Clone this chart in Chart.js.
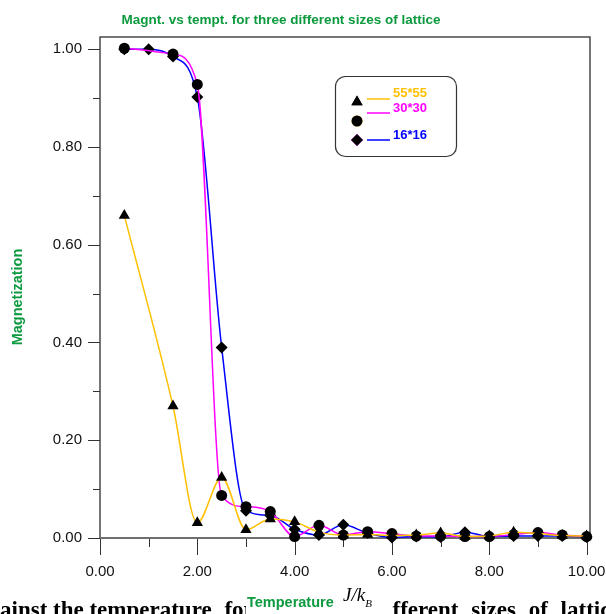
<!DOCTYPE html>
<html>
<head>
<meta charset="utf-8">
<script src="https://cdn.jsdelivr.net/npm/chart.js@4/dist/chart.umd.min.js"></script>
<style>
  html, body { margin: 0; padding: 0; background: #fff; }
  canvas { display: block; }
</style>
</head>
<body>
<canvas id="magChart" width="606" height="614"></canvas>
<script>
// temperatures (J/kB) where the runs were sampled
const temps = [0.5, 1.0, 1.5, 2.0, 2.5, 3.0, 3.5, 4.0, 4.5, 5.0,
               5.5, 6.0, 6.5, 7.0, 7.5, 8.0, 8.5, 9.0, 9.5, 10.0];
// magnetization per lattice size (null = no sample)
const mag55 = [0.66, null, 0.27, 0.031, 0.124, 0.017, 0.039, 0.033, 0.012, 0.006,
               0.007, 0.005, 0.006, 0.010, 0.003, 0.004, 0.012, 0.009, 0.005, 0.004];
const mag30 = [1.002, null, 0.99, 0.928, 0.087, 0.064, 0.054, 0.003, 0.026, 0.006,
               0.013, 0.009, 0.004, 0.004, 0.003, 0.003, 0.007, 0.011, 0.006, 0.003];
const mag16 = [1.0, 1.0, 0.985, 0.902, 0.39, 0.056, 0.046, 0.018, 0.006, 0.027,
               0.010, 0.001, 0.003, 0.002, 0.012, 0.003, 0.004, 0.004, 0.004, 0.002];
const labels = ['55*55', '30*30', '16*16'];
const xTicks = [0, 2, 4, 6, 8, 10];
const yTicks = [0, 0.2, 0.4, 0.6, 0.8, 1.0];

const GREEN = '#0c9a3e';
const SANS = '"Liberation Sans", Arial, sans-serif';
const SERIF = '"Liberation Serif", "Times New Roman", serif';

function toPoints(values) {
  return temps.map((t, i) => ({ x: t, y: values[i] })).filter(p => p.y !== null);
}

function series(label, values, color, style, radius) {
  return {
    label: label,
    data: toPoints(values),
    borderColor: color,
    backgroundColor: '#000',
    borderWidth: 1.5,
    pointStyle: style,
    pointRadius: radius,
    pointBorderWidth: 0,
    pointBackgroundColor: '#000',
    cubicInterpolationMode: 'monotone',
    clip: false
  };
}

// midpoints between major ticks -> minor ticks
function minorOf(ticks) {
  const out = [];
  for (let i = 0; i < ticks.length - 1; i++) out.push((ticks[i] + ticks[i + 1]) / 2);
  return out;
}

const decorations = {
  id: 'decorations',
  beforeDatasetsDraw(chart) {
    const { ctx, chartArea: a, scales: { x, y } } = chart;
    ctx.save();
    // frame (left, top, right)
    ctx.strokeStyle = '#4a4a4a';
    ctx.lineWidth = 1.5;
    ctx.beginPath();
    ctx.moveTo(a.left, a.bottom);
    ctx.lineTo(a.left, a.top);
    ctx.lineTo(a.right, a.top);
    ctx.lineTo(a.right, a.bottom);
    ctx.stroke();

    // tick marks
    ctx.strokeStyle = '#333';
    ctx.lineWidth = 1;
    ctx.beginPath();
    yTicks.forEach(v => { const py = Math.round(y.getPixelForValue(v)) + 0.5; ctx.moveTo(a.left - 12, py); ctx.lineTo(a.left, py); });
    minorOf(yTicks).forEach(v => { const py = Math.round(y.getPixelForValue(v)) + 0.5; ctx.moveTo(a.left - 7, py); ctx.lineTo(a.left, py); });
    xTicks.forEach(v => { const px = Math.round(x.getPixelForValue(v)) + 0.5; ctx.moveTo(px, a.bottom); ctx.lineTo(px, a.bottom + 17); });
    minorOf(xTicks).forEach(v => { const px = Math.round(x.getPixelForValue(v)) + 0.5; ctx.moveTo(px, a.bottom); ctx.lineTo(px, a.bottom + 9); });
    ctx.stroke();

    // zero line
    ctx.strokeStyle = '#6e6e6e';
    ctx.lineWidth = 2;
    ctx.beginPath();
    ctx.moveTo(a.left, y.getPixelForValue(0));
    ctx.lineTo(a.right, y.getPixelForValue(0));
    ctx.stroke();
    ctx.restore();
  },
  afterDraw(chart) {
    const ctx = chart.ctx;
    ctx.save();

    // title
    ctx.fillStyle = GREEN;
    ctx.font = 'bold 13.5px ' + SANS;
    ctx.textAlign = 'center';
    ctx.textBaseline = 'middle';
    ctx.fillText('Magnt. vs tempt. for three different sizes of lattice', 281, 20);

    // y title
    ctx.font = 'bold 14.5px ' + SANS;
    ctx.save();
    ctx.translate(18, 297);
    ctx.rotate(-Math.PI / 2);
    ctx.fillText('Magnetization', 0, 0);
    ctx.restore();

    // caption of the source figure, cut by the left and bottom edges
    ctx.fillStyle = '#000';
    ctx.font = 'bold 23px ' + SERIF;
    ctx.textAlign = 'left';
    ctx.textBaseline = 'alphabetic';
    const head = 'against the temperature';
    let cx = -ctx.measureText('ag').width;
    ctx.fillText(head, cx, 617);
    cx += ctx.measureText(head).width;
    const gap = ctx.measureText(' ').width + 7;
    'for the three different sizes of lattice'.split(' ').forEach(wd => {
      cx += gap;
      ctx.fillText(wd, cx, 617);
      cx += ctx.measureText(wd).width;
    });

    // x title on white
    ctx.fillStyle = '#fff';
    ctx.fillRect(246, 586, 146, 28);
    ctx.fillStyle = GREEN;
    ctx.font = 'bold 14.5px ' + SANS;
    ctx.textAlign = 'left';
    ctx.textBaseline = 'middle';
    ctx.fillText('Temperature', 247, 603);
    ctx.fillStyle = '#000';
    ctx.font = 'italic 19px ' + SERIF;
    ctx.fillText('J/k', 343, 596);
    const w = ctx.measureText('J/k').width;
    ctx.font = 'italic 11px ' + SERIF;
    ctx.fillText('B', 343 + w, 604);

    // legend box
    const bx = 335, by = 76, bw = 121, bh = 80, r = 10;
    ctx.strokeStyle = '#333';
    ctx.lineWidth = 1.2;
    ctx.beginPath();
    ctx.roundRect(bx + 0.5, by + 0.5, bw, bh, r);
    ctx.stroke();
    const markerY = [102, 121, 140];
    const lineY = [99, 113, 140];
    const textY = [93, 108, 135];
    chart.data.datasets.forEach((ds, i) => {
      Chart.helpers.drawPoint(ctx, { pointStyle: ds.pointStyle, radius: ds.pointRadius, borderWidth: 0 }, 357, markerY[i]);
      ctx.fillStyle = '#000';
      ctx.fill();
      ctx.strokeStyle = ds.borderColor;
      ctx.lineWidth = 1.5;
      ctx.beginPath();
      ctx.moveTo(367, lineY[i]);
      ctx.lineTo(390, lineY[i]);
      ctx.stroke();
      ctx.fillStyle = ds.borderColor;
      ctx.font = 'bold 13px ' + SANS;
      ctx.textAlign = 'left';
      ctx.textBaseline = 'middle';
      ctx.fillText(ds.label, 393, textY[i]);
    });
    ctx.restore();
  }
};

new Chart(document.getElementById('magChart'), {
  type: 'line',
  data: {
    datasets: [
      series(labels[0], mag55, '#ffc000', 'triangle', 6.5),
      series(labels[1], mag30, '#ff00ff', 'circle', 5.5),
      series(labels[2], mag16, '#0000ff', 'rectRot', 6)
    ]
  },
  options: {
    responsive: false,
    animation: false,
    layout: { padding: { top: 37, right: 16, left: 0, bottom: 0 } },
    plugins: { legend: { display: false }, title: { display: false }, tooltip: { enabled: false } },
    scales: {
      x: {
        type: 'linear', min: 0, max: 10.07,
        afterFit: s => { s.height = 76; s.paddingLeft = 0; s.paddingRight = 0; },
        afterBuildTicks: s => { s.ticks = xTicks.map(v => ({ value: v })); },
        grid: { display: false, drawTicks: false },
        border: { display: false },
        ticks: { padding: 25, maxRotation: 0, autoSkip: false, color: '#111',
                 font: { family: SANS, size: 15 }, callback: v => Number(v).toFixed(2) }
      },
      y: {
        type: 'linear', min: 0, max: 1.025,
        afterFit: s => { s.width = 100; s.paddingTop = 0; s.paddingBottom = 0; },
        afterBuildTicks: s => { s.ticks = yTicks.map(v => ({ value: v })); },
        grid: { display: false, drawTicks: false },
        border: { display: false },
        ticks: { padding: 18, color: '#111',
                 font: { family: SANS, size: 15 }, callback: v => Number(v).toFixed(2) }
      }
    }
  },
  plugins: [decorations]
});
</script>
</body>
</html>
